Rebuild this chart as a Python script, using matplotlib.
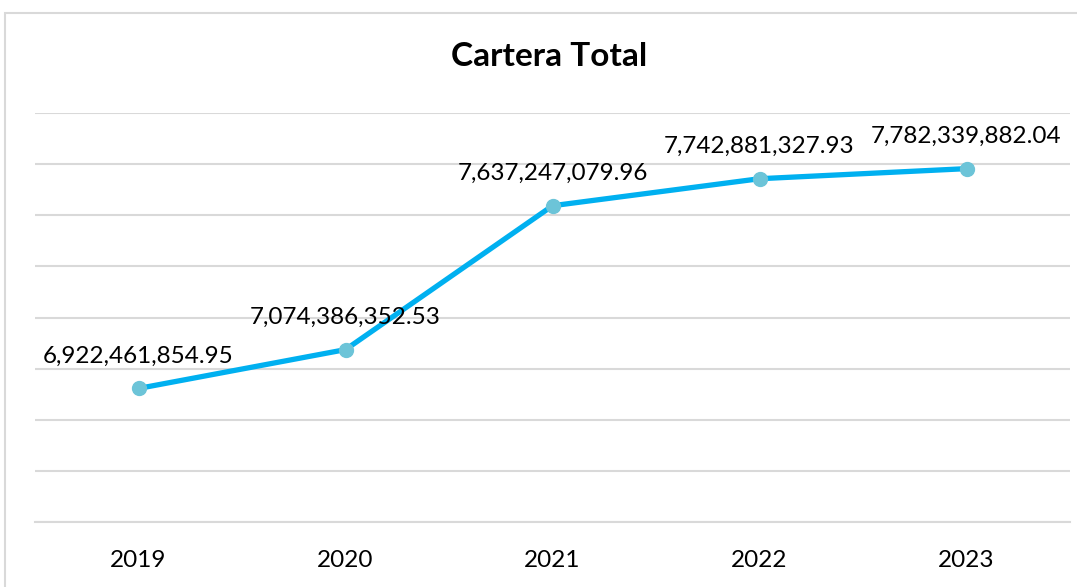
import matplotlib.pyplot as plt
from matplotlib.patches import Rectangle

years = ["2019", "2020", "2021", "2022", "2023"]
cartera = [6922461854.95, 7074386352.53, 7637247079.96, 7742881327.93, 7782339882.04]
grid_ticks = [6.4e9, 6.6e9, 6.8e9, 7.0e9, 7.2e9, 7.4e9, 7.6e9, 7.8e9, 8.0e9]

W, H = 1077, 587
fig = plt.figure(figsize=(W / 100, H / 100), dpi=100)
plt.rcParams['font.family'] = ['Lato', 'DejaVu Sans']

# chart frame (cropped on right and bottom)
fig.patches.append(Rectangle((5 / W, -0.1), 1.2, 1 - 13 / H + 0.1, transform=fig.transFigure,
                             fill=False, edgecolor="#D9D9D9", linewidth=1.5))

ax = fig.add_axes([35 / W, (H - 522) / H, (1070 - 35) / W, (522 - 113) / H])
x = range(len(years))
ax.plot(x, cartera, color="#00B0F0", linewidth=3.8, zorder=3)
ax.plot(x, cartera, linestyle="none", marker="o", markersize=10,
        color="#6CC4D8", zorder=4)

for i, v in enumerate(cartera):
    ax.annotate(f"{v:,.2f}", (i, v), xytext=(0, 23), textcoords="offset points",
                ha="center", va="center", fontsize=17.5, color="#000000")

ax.set_xlim(-0.5, len(years) - 0.5)
ax.set_ylim(grid_ticks[0], grid_ticks[-1])
ax.set_yticks(grid_ticks)
ax.set_xticks(list(x))
ax.set_xticklabels(years, fontsize=17.5)
ax.tick_params(axis="y", left=False, labelleft=False)
ax.tick_params(axis="x", length=0, pad=20)
ax.grid(axis="y", color="#D9D9D9", linewidth=1.5)
for s in ["top", "right", "left"]:
    ax.spines[s].set_visible(False)
ax.spines["bottom"].set_color("#D9D9D9")
ax.spines["bottom"].set_linewidth(1.5)

fig.text(549 / W, 1 - 57 / H, "Cartera Total", ha="center", va="center",
         fontsize=24, fontweight="bold")

fig.savefig("out.png", dpi=100)
